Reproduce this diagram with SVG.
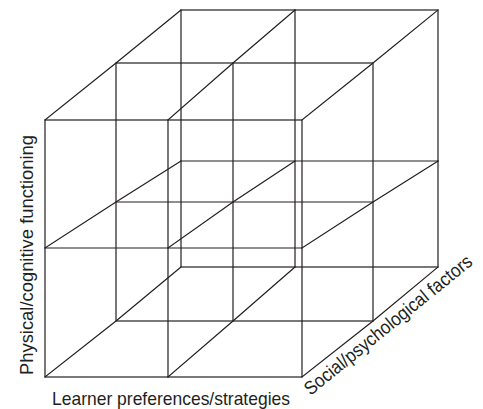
<svg xmlns="http://www.w3.org/2000/svg" width="483" height="409" viewBox="0 0 483 409">
<style>
.l{stroke:#231f20;stroke-width:1.2;fill:none;stroke-linecap:square}
.t{font-family:"Liberation Sans",Arial,sans-serif;font-size:19px;fill:#231f20}
</style>
<rect width="483" height="409" fill="#fff"/>
<g id="back-face" class="l">
<rect x="181" y="10" width="257" height="257"/>
<path d="M295 10V267M181 161H438"/>
</g>
<g id="middle-layer" class="l">
<rect x="116" y="63" width="257" height="258"/>
<path d="M233 63V321M116 202H373"/>
</g>
<g id="front-face" class="l">
<rect x="45" y="120" width="257" height="257"/>
<path d="M168 120V377M45 248H302"/>
</g>
<g id="depth-lines" class="l">
<path d="M45 120L116 63L181 10M168 120L233 63L295 10M302 120L373 63L438 10"/>
<path d="M45 248L116 202L181 161M168 248L233 202L295 161M302 248L373 202L438 161"/>
<path d="M45 377L116 321L181 267M168 377L233 321L295 267M302 377L373 321L438 267"/>
</g>
<g id="labels" class="t">
<text x="52" y="405" textLength="238" lengthAdjust="spacingAndGlyphs">Learner preferences/strategies</text>
<text transform="translate(33,375) rotate(-90)" textLength="240" lengthAdjust="spacingAndGlyphs">Physical/cognitive functioning</text>
<text transform="translate(310.5,396) rotate(-39)" textLength="210" lengthAdjust="spacingAndGlyphs">Social/psychological factors</text>
</g>
</svg>
